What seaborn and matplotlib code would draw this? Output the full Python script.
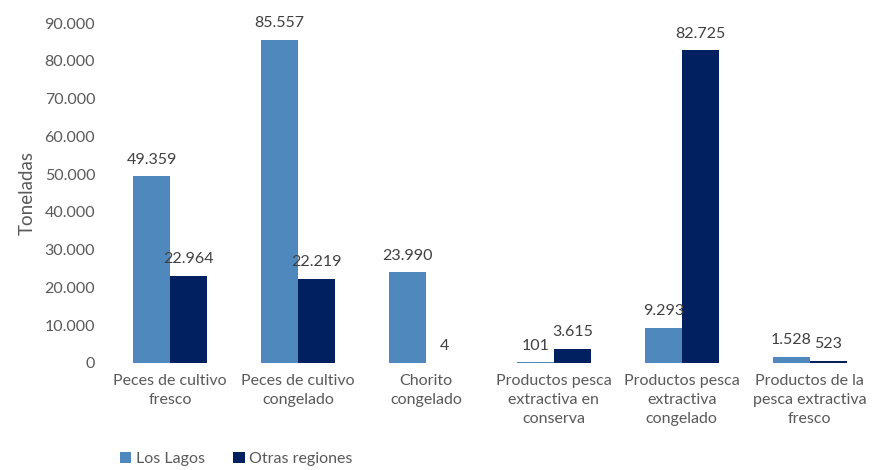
import numpy as np
import pandas as pd
import matplotlib
matplotlib.use("Agg")
import matplotlib.pyplot as plt
import seaborn as sns

# datos (toneladas)
categorias = [
    "Peces de cultivo\nfresco",
    "Peces de cultivo\ncongelado",
    "Chorito\ncongelado",
    "Productos pesca\nextractiva en\nconserva",
    "Productos pesca\nextractiva\ncongelado",
    "Productos de la\npesca extractiva\nfresco",
]
los_lagos = [49359, 85557, 23990, 101, 9293, 1528]
otras_regiones = [22964, 22219, 4, 3615, 82725, 523]
series = ["Los Lagos", "Otras regiones"]
colores = ["#4F88BD", "#002060"]

df = pd.DataFrame({
    "categoria": categorias * 2,
    "valor": los_lagos + otras_regiones,
    "serie": [series[0]] * len(categorias) + [series[1]] * len(categorias),
})

sns.set_style("white")
plt.rcParams["font.family"] = ["Lato", "DejaVu Sans"]
gris = "#595959"
fs = 11.5

fig = plt.figure(figsize=(8.78, 4.70), dpi=100)
ax = fig.add_axes([0.121, 0.228, 0.874, 0.723])

sns.barplot(data=df, x="categoria", y="valor", hue="serie", palette=colores,
            width=0.58, ax=ax, legend=True, saturation=1,
            edgecolor="none", linewidth=0)

def fmt(v):
    return f"{v:,.0f}".replace(",", ".")

for cont in ax.containers:
    for bar in cont:
        h = bar.get_height()
        ax.annotate(fmt(h), (bar.get_x() + bar.get_width() / 2, h),
                    xytext=(0, 7), textcoords="offset points",
                    ha="center", va="bottom", fontsize=fs, color="#404040")

ax.set_ylim(0, 90000)
ax.set_yticks(np.arange(0, 90001, 10000))
ax.set_yticklabels([fmt(v) for v in np.arange(0, 90001, 10000)],
                   fontsize=fs, color=gris)
ax.tick_params(axis="x", labelsize=fs, labelcolor=gris, length=0, pad=8)
for t in ax.get_xticklabels():
    t.set_linespacing(1.45)
ax.tick_params(axis="y", length=0, pad=8)
ax.set_xlabel("")
ax.set_ylabel("Toneladas", fontsize=13.5, color=gris, labelpad=6)
sns.despine(ax=ax, left=True, bottom=True)

handles, labels = ax.get_legend_handles_labels()
ax.legend_.remove()
fig.legend(handles, labels, loc="lower left", bbox_to_anchor=(0.12, -0.022),
           ncol=2, frameon=False, fontsize=fs, handlelength=0.7,
           handleheight=0.7, handletextpad=0.3, columnspacing=1.8,
           labelcolor=gris)

fig.savefig("out.png", dpi=100)
